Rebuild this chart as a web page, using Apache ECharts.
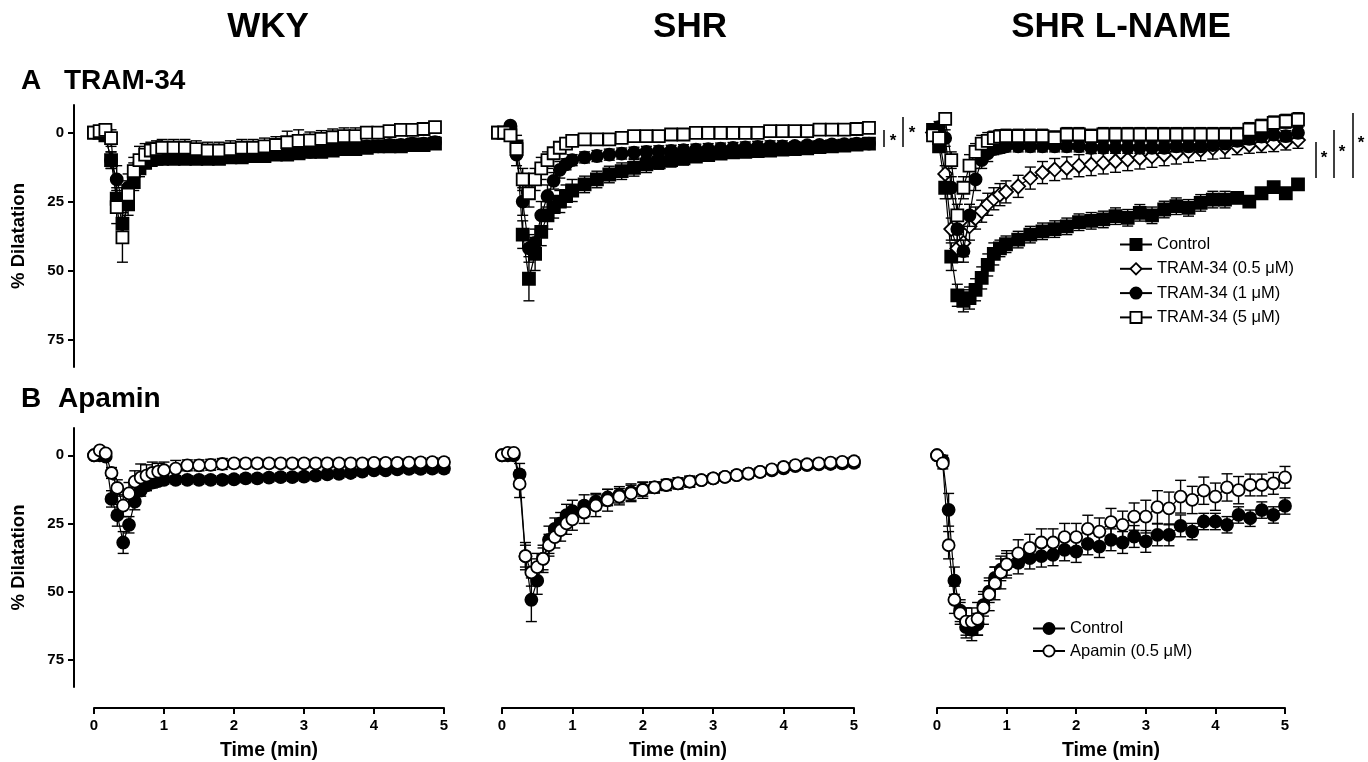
<!DOCTYPE html>
<html>
<head>
<meta charset="utf-8">
<title>TRAM-34 / Apamin dilatation</title>
<script src="https://cdn.jsdelivr.net/npm/echarts@6/dist/echarts.min.js"></script>
<style>
  html, body { margin: 0; padding: 0; background: #fff; }
  #chart { width: 1368px; height: 762px; }
</style>
</head>
<body>
<div id="chart"></div>
<script>
// ---------------- DATA ----------------
// time points (min)
const T = [0,0.083,0.167,0.25,0.333,0.417,0.5,0.583,0.667,0.75,0.833,0.917,1,
  1.167,1.333,1.5,1.667,1.833,2,2.167,2.333,2.5,2.667,2.833,3,3.167,3.333,3.5,3.667,3.833,4,4.167,4.333,4.5,4.667,4.833,5];
const xTicks = [0,1,2,3,4,5];
const yTicks = [0,25,50,75];

// A - TRAM-34, WKY
const wkyTramCtrl   = [0,0,1,10,24,33,26,18,13,11,10,9.5,9.5, 9.5,9.5,9.5,9.5,9.5,9,9,8.5,8.5,8,8,7.5,7,7,6.5,6,6,5.5,5,5,5,4.5,4.5,4];
const wkyTramCtrlE  = [0,0,1,3,4,4,4,3,3,2,2,2,2, 2,2,2,2,2,2,2,2,2,2,2,2,2,2,2,2,2,2,2,2,2,2,2,2];
const wkyTram1      = [0,0,1,10,17,25,20,15,12,10,9,8.5,8.5, 8.5,8.5,8.5,8.5,8.5,8.5,8,8,8,7.5,7,7,7,6.5,6,5.5,5.5,5,5,4.5,4.5,4,4,3.5];
const wkyTram1E     = [0,0,1,3,5,6,5,4,3,2,2,2,2, 2,2,2,2,2,2,2,2,2,2,2,2,2,2,2,2,2,2,2,2,2,2,2,2];
const wkyTram5      = [0,-0.5,-1,2,27,38,22.5,14,10,8,6.5,6,5.5, 5.5,5.5,6,6.5,6.5,6,5.5,5.5,5,4.5,3.5,3,2.8,2.3,1.7,1.3,1.3,0,0,-0.5,-1,-1,-1.3,-2];
const wkyTram5E     = [0,0,1,3,6,9,5,5,5,4,3,3,3, 3,3,3,3,3,3,3,3,3,3,4,4,3,3,3,3,3,2,2,2,2,2,2,2];

// A - TRAM-34, SHR
const shrTramCtrl   = [0,0,0,5,37,53,44,36,30,27,25,23,21, 18.8,17,15.2,14,12.8,11.5,10.8,10,9.3,8.7,8.2,7.6,7.2,7,6.7,6.5,6.2,6,5.7,5.3,5,4.7,4.4,4];
const shrTramCtrlE  = [0,0,1,4,5,8,6,5,5,4,4,4,4, 3,3,3,3,3,3,2.5,2.5,2.5,2,2,2,2,2,2,2,2,2,2,2,2,2,2,2];
const shrTram1      = [0,0,-2.5,8,25,42,40,30,23,17.5,13.5,11.5,10, 9,8.5,8,7.6,7.3,7,6.8,6.6,6.4,6.2,6,5.8,5.6,5.4,5.2,5,5,4.8,4.6,4.5,4.3,4.2,4,4];
const shrTram1E     = [0,0,1,4,5,5,5,5,4,3,3,2,2, 2,2,2,2,2,2,2,2,2,2,2,2,2,2,2,2,2,1.5,1.5,1.5,1.5,1.5,1.5,1.5];
const shrTram5      = [0,0,1,6,17,22,17,13,10,7.5,5.5,4,3, 2.5,2.5,2.5,1.9,1.3,1.3,1.3,0.7,0.7,0.1,0.1,0.1,0.1,0.1,0.1,-0.5,-0.5,-0.5,-0.5,-1.1,-1.1,-1.1,-1.3,-1.7];
const shrTram5E     = [0,0,1,3,4,5,4,4,3,2,2,1.5,1.5, 1.5,1.5,1.5,1.5,1.5,1.5,1.5,1.5,1.5,1.5,1.5,1.5,1.5,1.5,1.5,1.5,1.5,1.5,1.5,1.5,1.5,1.5,1.5,1.5];

// A - TRAM-34, SHR L-NAME
const lnTramCtrl    = [-1,5,20,45,59,61,60,57,52.7,48,44,42,40.5, 38.8,37,35.8,35,34,32.5,32,31.5,30.3,30.9,29.1,30,27.9,26.7,27.3,25.5,24.3,24.3,23.7,25,22,19.8,22,18.8];
const lnTramCtrlE   = [1,2,4,5,4,4,4,4,4,4,4,3,3, 3,3,3,3,3,3,3,3,3,3,3,3,3,3,3,3,3,3,2,2,2,2,2,2];
const lnTram05      = [0,2,15,35,42,40,34,31,28.5,26,24,22.5,21.5, 19.5,16.5,14.5,13.4,12.8,12,11.6,11,10.4,9.8,9.2,8.6,8,7.4,6.8,6.2,5.6,5.3,5,4.5,4.2,3.9,3.3,2.7];
const lnTram05E     = [0,1,3,4,5,5,5,4,4,4,4,4,4, 4,4,4,4,4,4,4,4,4,4,4,4,4,4,4,4,4,4,3,3,3,3,3,3];
const lnTram1       = [0,-2,2,20,35,43,30,17,10,7.5,6,5.5,5, 5,5,5,5,5,5,5.5,5.5,5.5,5.5,5.5,5.5,5.5,5,5,5,4.5,4,3,2.3,1.5,0.7,1.3,0.1];
const lnTram1E      = [1,2,3,4,4,4,4,4,3,3,2,2,2, 2,2,2,2,2,2,2,2,2,2,2,2,2,2,2,2,2,2,2,2,2,2,2,2];
const lnTram5       = [1,2,-5,10,30,20,12,7,4,3,2,1.5,1.3, 1.3,1.3,1.3,1.9,0.7,0.7,1.3,0.7,0.7,0.7,0.7,0.7,0.7,0.7,0.7,0.7,0.7,0.7,0.7,-1.1,-2.3,-3.5,-4.1,-4.7];
const lnTram5E      = [2,2,2,3,4,4,4,3,3,3,2.5,2.5,2.5, 2.5,2.5,2.5,2.5,2.5,2.5,2.5,2.5,2.5,2.5,2.5,2.5,2.5,2.5,2.5,2.5,2.5,2.5,2.5,2.5,2.5,2.5,2.5,2.5];

// B - Apamin, WKY
const wkyApaCtrl    = [0,0,0.5,16,22,32,25.5,17,13,11,10,9.5,9, 9,9,9,9,9,8.8,8.5,8.5,8.2,8,8,7.8,7.5,7,6.8,6.5,6,5.5,5.5,5.2,5,5,4.9,4.9];
const wkyApaCtrlE   = [0,0,1,3,4,4,3,3,2,2,2,1.5,1.5, 1.5,1.5,1.5,1.5,1.5,1.5,1.5,1.5,1.5,1.5,1.5,1.5,1.5,1.5,1.5,1.5,1.5,1.5,1.5,1.5,1.5,1.5,1.5,1.5];
const wkyApa        = [0,-1.8,-0.7,6.5,12,18.5,14,9.7,8.2,7.5,6.5,6,5.5, 4.9,3.7,3.7,3.5,3.2,3,3,3,3,3,3,3,3,3,3,3,3,2.8,2.8,2.8,2.7,2.6,2.5,2.5];
const wkyApaE       = [0,1,1,2,3,4,4,4,5,4,4,3,3, 3,2,2,2,2,1.5,1.5,1.5,1.5,1.5,1.5,1.5,1.5,1.5,1.5,1.5,1.5,1.5,1.5,1.5,1.5,1.5,1.5,1.5];

// B - Apamin, SHR
const shrApaCtrl    = [0,0,0,7,37,53,46,38,31,27,25,22,20.5, 18.5,17,15.5,14.5,13.5,12.5,11.8,10.9,10.3,9.7,9.1,8.5,7.9,7.3,6.7,6.1,5.5,4.8,4,3.6,3.3,3.2,3,2.8];
const shrApaCtrlE   = [0,0,0,4,5,8,5,5,5,4,4,4,4, 4,3,3,3,3,2.5,2,2,2,2,1.5,1.5,1.5,1.5,1.5,1.5,1.5,1.5,1.5,1.5,1.5,1.5,1.5,1.5];
const shrApa        = [0,-0.9,-0.9,10.5,37,43,41,38,33,30,27.5,25,23.5, 21,18.5,16.5,15.2,14,12.8,11.8,10.9,10.3,9.7,9.1,8.5,7.9,7.3,6.7,6.1,5.2,4.3,3.6,3.3,3,2.7,2.4,2.2];
const shrApaE       = [0,0,0,5,4,5,5,4,4,4,4,4,4, 4,4,4,3,3,3,2,2,2,2,1.5,1.5,1.5,1.5,1.5,1.5,1.5,1.5,1.5,1.5,1.5,1.5,1.5,1.5];

// B - Apamin, SHR L-NAME
const lnApaCtrl     = [0,2,20,46,57,63,64,62,55,50,45,42,40, 39.5,37.7,37,36.5,34.7,35.3,32.5,33.5,31,32,29.8,31.6,29.2,29.2,25.9,28,24.3,24.3,25.5,21.9,23.1,20.1,21.9,18.6];
const lnApaCtrlE    = [0,2,6,5,4,4,4,4,4,4,4,4,4, 4,4,4,4,4,4,4,4,4,4,4,4,4,4,4,3,3,3,3,3,3,3,3,3];
const lnApa         = [0,3,33,53,58,61,61,60,56,51,47,43,40, 36,34,32,32,30,30,27,28,24.5,25.5,22.5,22.5,19,19.5,15.2,16.4,13,15.2,11.8,12.8,10.9,10.9,10.3,8.1];
const lnApaE        = [0,2,5,5,4,5,5,6,6,6,6,6,5, 5,5,5,5,5,5,5,5,5,5,5,6,6,6,6,5,5,5,5,5,4,4,4,4];

// ---------------- LABELS ----------------
const columnTitles = ['WKY', 'SHR', 'SHR L-NAME'];
const rowLetters = ['A', 'B'];
const rowTitles = ['TRAM-34', 'Apamin'];
const yAxisTitle = '% Dilatation';
const xAxisTitle = 'Time (min)';
const legendLabels = {
  'ln-tram-ctrl': 'Control',
  'ln-tram-05': 'TRAM-34 (0.5 μM)',
  'ln-tram-1': 'TRAM-34 (1 μM)',
  'ln-tram-5': 'TRAM-34 (5 μM)',
  'ln-apa-ctrl': 'Control',
  'ln-apa': 'Apamin (0.5 μM)'
};

// ---------------- STYLE / LAYOUT ----------------
const FONT = '"Liberation Sans", Arial, Helvetica, sans-serif';
const BLACK = '#000';
const grids = [
  { left: 94,  top: 105, width: 341, height: 262 },
  { left: 498, top: 105, width: 371, height: 262 },
  { left: 933, top: 105, width: 365, height: 262 },
  { left: 94,  top: 428, width: 350, height: 259 },
  { left: 502, top: 428, width: 352, height: 259 },
  { left: 937, top: 428, width: 348, height: 259 }
];

const MARK = {
  fsq: { symbol: 'rect', fill: BLACK, size: 12 },
  osq: { symbol: 'rect', fill: '#fff', size: 12 },
  fci: { symbol: 'circle', fill: BLACK, size: 12 },
  oci: { symbol: 'circle', fill: '#fff', size: 12 },
  odi: { symbol: 'diamond', fill: '#fff', size: 14 }
};

const panels = [
  { g: 0, items: [
    { id: 'wky-tram-ctrl', v: wkyTramCtrl, e: wkyTramCtrlE, m: 'fsq' },
    { id: 'wky-tram-1', v: wkyTram1, e: wkyTram1E, m: 'fci' },
    { id: 'wky-tram-5', v: wkyTram5, e: wkyTram5E, m: 'osq' } ] },
  { g: 1, items: [
    { id: 'shr-tram-ctrl', v: shrTramCtrl, e: shrTramCtrlE, m: 'fsq' },
    { id: 'shr-tram-1', v: shrTram1, e: shrTram1E, m: 'fci' },
    { id: 'shr-tram-5', v: shrTram5, e: shrTram5E, m: 'osq' } ] },
  { g: 2, items: [
    { id: 'ln-tram-ctrl', v: lnTramCtrl, e: lnTramCtrlE, m: 'fsq' },
    { id: 'ln-tram-05', v: lnTram05, e: lnTram05E, m: 'odi' },
    { id: 'ln-tram-1', v: lnTram1, e: lnTram1E, m: 'fci' },
    { id: 'ln-tram-5', v: lnTram5, e: lnTram5E, m: 'osq' } ] },
  { g: 3, items: [
    { id: 'wky-apa-ctrl', v: wkyApaCtrl, e: wkyApaCtrlE, m: 'fci' },
    { id: 'wky-apa', v: wkyApa, e: wkyApaE, m: 'oci' } ] },
  { g: 4, items: [
    { id: 'shr-apa-ctrl', v: shrApaCtrl, e: shrApaCtrlE, m: 'fci' },
    { id: 'shr-apa', v: shrApa, e: shrApaE, m: 'oci' } ] },
  { g: 5, items: [
    { id: 'ln-apa-ctrl', v: lnApaCtrl, e: lnApaCtrlE, m: 'fci' },
    { id: 'ln-apa', v: lnApa, e: lnApaE, m: 'oci' } ] }
];

function errRender(params, api) {
  const x = api.value(0), lo = api.value(1), hi = api.value(2);
  if (hi - lo <= 0) return null;
  const a = api.coord([x, lo]), b = api.coord([x, hi]);
  const w = 5.5;
  const st = { stroke: BLACK, lineWidth: 1.4 };
  return { type: 'group', children: [
    { type: 'line', shape: { x1: a[0], y1: a[1], x2: b[0], y2: b[1] }, style: st },
    { type: 'line', shape: { x1: a[0] - w, y1: a[1], x2: a[0] + w, y2: a[1] }, style: st },
    { type: 'line', shape: { x1: b[0] - w, y1: b[1], x2: b[0] + w, y2: b[1] }, style: st }
  ]};
}

const xAxes = [], yAxes = [], series = [];
grids.forEach((g, i) => {
  const bottomRow = i >= 3;
  const firstCol = i % 3 === 0;
  xAxes.push({
    type: 'value', gridIndex: i, min: 0, max: 5, interval: 1,
    show: bottomRow, position: 'bottom', offset: 21,
    axisLine: { show: true, onZero: false, lineStyle: { color: BLACK, width: 2 } },
    axisTick: { show: true, inside: false, length: 6, lineStyle: { color: BLACK, width: 2 } },
    axisLabel: { color: BLACK, fontWeight: 'bold', fontSize: 15, fontFamily: FONT, margin: 10,
                 customValues: xTicks },
    splitLine: { show: false },
    name: bottomRow ? xAxisTitle : '', nameLocation: 'middle', nameGap: 33,
    nameTextStyle: { color: BLACK, fontWeight: 'bold', fontSize: 19.5, fontFamily: FONT }
  });
  yAxes.push({
    type: 'value', gridIndex: i, min: -10, max: 85, inverse: true,
    show: firstCol, position: 'left', offset: 20,
    axisLine: { show: true, onZero: false, lineStyle: { color: BLACK, width: 2 } },
    axisTick: { show: true, inside: false, length: 6, lineStyle: { color: BLACK, width: 2 }, customValues: yTicks },
    axisLabel: { color: BLACK, fontWeight: 'bold', fontSize: 15, fontFamily: FONT, margin: 10, customValues: yTicks },
    splitLine: { show: false },
    name: firstCol ? yAxisTitle : '', nameLocation: 'middle', nameGap: 46, nameRotate: 90,
    nameTextStyle: { color: BLACK, fontWeight: 'bold', fontSize: 18.5, fontFamily: FONT }
  });
});

panels.forEach(p => {
  p.items.forEach((it, k) => {
    const mk = MARK[it.m];
    const pts = T.map((t, j) => [t, it.v[j]]);
    const errs = T.map((t, j) => [t, it.v[j] - it.e[j], it.v[j] + it.e[j]]);
    series.push({
      type: 'custom', name: it.id + '-err', xAxisIndex: p.g, yAxisIndex: p.g,
      renderItem: errRender, data: errs, encode: { x: 0, y: [1, 2] },
      z: 2 + k * 2, silent: true, clip: false
    });
    series.push({
      type: 'line', name: it.id, xAxisIndex: p.g, yAxisIndex: p.g,
      data: pts, symbol: mk.symbol, symbolSize: mk.size, showAllSymbol: true,
      itemStyle: { color: mk.fill, borderColor: BLACK, borderWidth: 1.8 },
      lineStyle: { color: BLACK, width: 1.2 },
      z: 3 + k * 2, clip: false, emphasis: { disabled: true }, silent: true
    });
  });
});

const titleStyle = { color: BLACK, fontWeight: 'bold', fontFamily: FONT };
const ts = s => Object.assign({ fontSize: s }, titleStyle);
const titles = [
  { text: columnTitles[0], left: 268, top: 10, padding: 0, textAlign: 'center', textStyle: ts(35) },
  { text: columnTitles[1], left: 690, top: 10, padding: 0, textAlign: 'center', textStyle: ts(35) },
  { text: columnTitles[2], left: 1121, top: 10, padding: 0, textAlign: 'center', textStyle: ts(35) },
  { text: rowLetters[0], left: 21, top: 67, padding: 0, textStyle: ts(28) },
  { text: rowTitles[0], left: 64, top: 67, padding: 0, textStyle: ts(28) },
  { text: rowLetters[1], left: 21, top: 385, padding: 0, textStyle: ts(28) },
  { text: rowTitles[1], left: 58, top: 385, padding: 0, textStyle: ts(28) }
];

const legendCommon = {
  orient: 'vertical', selectedMode: false, itemWidth: 32, itemHeight: 14,
  textStyle: { color: BLACK, fontSize: 16.5, fontFamily: FONT, lineHeight: 14 },
  formatter: n => legendLabels[n] || n, padding: 0, itemStyle: { borderWidth: 1.8 }
};
const legends = [
  Object.assign({ left: 1119, top: 236, itemGap: 7.3,
    data: ['ln-tram-ctrl', 'ln-tram-05', 'ln-tram-1', 'ln-tram-5'] }, legendCommon),
  Object.assign({ left: 1032, top: 620, itemGap: 5.5,
    data: ['ln-apa-ctrl', 'ln-apa'] }, legendCommon)
];

// significance annotations (brackets with asterisks)
function sig(x, y1, y2, sx, sy) {
  return [
    { type: 'line', shape: { x1: x, y1: y1, x2: x, y2: y2 }, style: { stroke: BLACK, lineWidth: 1.5 } },
    { type: 'text', x: sx, y: sy, style: { text: '*', fill: BLACK, font: 'bold 17px ' + FONT, textAlign: 'center', textVerticalAlign: 'middle' } }
  ];
}
const graphics = [].concat(
  sig(884, 130, 147, 893, 141),
  sig(903, 117, 147, 912, 133),
  sig(1316, 142, 178, 1324, 158),
  sig(1334, 130, 178, 1342, 152),
  sig(1353, 113, 178, 1361, 143)
);

const chart = echarts.init(document.getElementById('chart'), null, { renderer: 'canvas' });
chart.setOption({
  backgroundColor: '#fff',
  animation: false,
  title: titles,
  legend: legends,
  grid: grids.map(g => Object.assign({ containLabel: false, outerBoundsMode: 'none' }, g)),
  xAxis: xAxes,
  yAxis: yAxes,
  series: series,
  graphic: graphics
});
</script>
</body>
</html>
